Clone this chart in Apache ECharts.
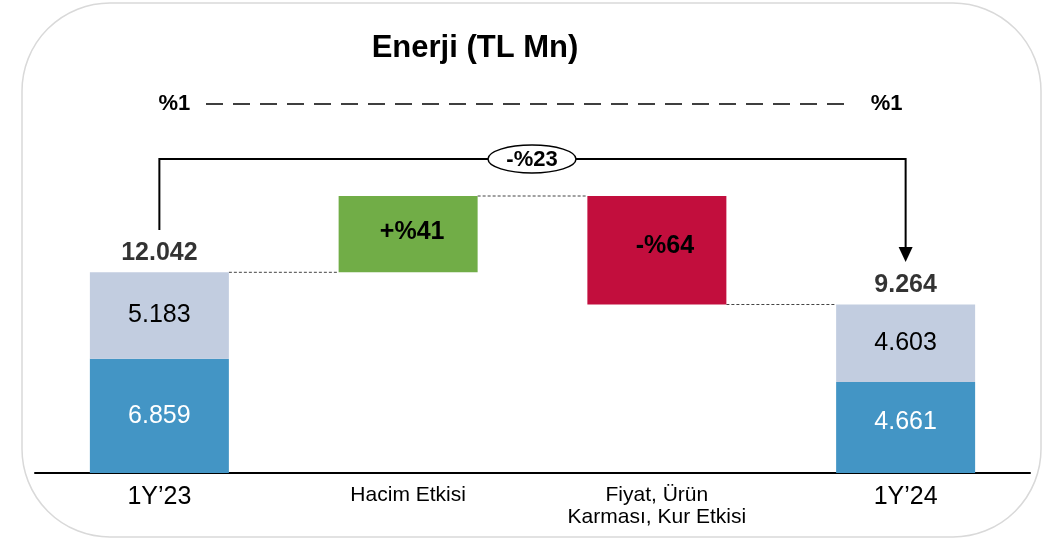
<!DOCTYPE html>
<html>
<head>
<meta charset="utf-8">
<script src="https://cdn.jsdelivr.net/npm/echarts@6/dist/echarts.min.js"></script>
<style>
html,body{margin:0;padding:0;background:#fff;}
#chart{width:1047px;height:540px;}
</style>
</head>
<body>
<div id="chart"></div>
<script>
// kategoriler
var categories = ['1Y\u201923', 'Hacim Etkisi', 'Fiyat, \u00dcr\u00fcn\nKarmas\u0131, Kur Etkisi', '1Y\u201924'];
// bar yükseklikleri (resimde çizildiği gibi)
var lowerSeg = [6859, null, null, 5460];
var upperSeg = [5183, null, null, 4650];
var stepUp = [null, 4578, null, null];
var stepDown = [null, null, 6510, null];
// etiketler
var lowerLabels = ['6.859', '', '', '4.661'];
var upperLabels = ['5.183', '', '', '4.603'];
var totalLabels = ['12.042', '', '', '9.264'];
var stepLabels = ['', '+%41', '-%64', ''];
var growthLabel = '-%23';
var shareLabels = ['%1', '%1'];

var total0 = lowerSeg[0] + upperSeg[0];
var total3 = lowerSeg[3] + upperSeg[3];
var level1 = total0 + stepUp[1];
var offset = [0, total0, level1 - stepDown[2], 0];
var levels = [total0, level1, level1 - stepDown[2]];
var totals = [total0, null, null, total3];

var FONT = '"Liberation Sans", Arial, sans-serif';
var BW = 139;

var chart = echarts.init(document.getElementById('chart'));
var option = {
  animation: false,
  textStyle: {fontFamily: FONT},
  title: {
    text: 'Enerji (TL Mn)', left: 470, top: 28, textAlign: 'center',
    textStyle: {fontSize: 31, fontWeight: 'bold', color: '#000', fontFamily: FONT}
  },
  grid: {left: 35, right: 17, top: 173, bottom: 67},
  xAxis: {
    type: 'category', data: categories,
    axisLine: {lineStyle: {color: '#000', width: 2}},
    axisTick: {show: false},
    axisLabel: {
      margin: 11, interval: 0,
      formatter: function (v) {
        if (v.indexOf('1Y') === 0) return '{big|' + v + '}';
        return v.split('\n').map(function (s) { return '{small|' + s + '}'; }).join('\n');
      },
      rich: {
        big: {fontSize: 25, color: '#000', fontFamily: FONT, lineHeight: 26},
        small: {fontSize: 21, color: '#000', fontFamily: FONT, lineHeight: 22}
      }
    }
  },
  yAxis: {type: 'value', min: 0, max: 18000, show: false, splitLine: {show: false}},
  series: [
    {
      name: 'offset', type: 'bar', stack: 's', barWidth: BW, silent: true,
      itemStyle: {color: 'transparent'}, data: offset
    },
    {
      name: 'lower', type: 'bar', stack: 's', barWidth: BW,
      itemStyle: {color: '#4395c5'},
      data: lowerSeg.map(function (v, i) {
        return i === 3 ? {value: v, label: {offset: [0, -5]}} : v;
      }),
      label: {show: true, position: 'inside', fontSize: 25, color: '#fff', fontFamily: FONT,
        formatter: function (p) { return lowerLabels[p.dataIndex]; }}
    },
    {
      name: 'upper', type: 'bar', stack: 's', barWidth: BW,
      itemStyle: {color: '#c2cde0'}, data: upperSeg,
      label: {show: true, position: 'inside', fontSize: 25, color: '#000', fontFamily: FONT,
        formatter: function (p) { return upperLabels[p.dataIndex]; }}
    },
    {
      name: 'up', type: 'bar', stack: 's', barWidth: BW,
      itemStyle: {color: '#71ad47'}, data: stepUp,
      label: {show: true, position: 'inside', offset: [4, -2], fontSize: 25, fontWeight: 'bold', color: '#000', fontFamily: FONT,
        formatter: function (p) { return stepLabels[p.dataIndex]; }}
    },
    {
      name: 'down', type: 'bar', stack: 's', barWidth: BW,
      itemStyle: {color: '#c20e3d'}, data: stepDown,
      label: {show: true, position: 'inside', offset: [8, -4], fontSize: 25, fontWeight: 'bold', color: '#000', fontFamily: FONT,
        formatter: function (p) { return stepLabels[p.dataIndex]; }}
    },
    {
      name: 'total', type: 'scatter', symbolSize: 1, itemStyle: {color: 'transparent'},
      data: totals,
      label: {show: true, position: 'top', distance: 6, fontSize: 25, fontWeight: 'bold', color: '#000', fontFamily: FONT,
        formatter: function (p) { return totalLabels[p.dataIndex]; }}
    },
    {
      name: 'connectors', type: 'custom', silent: true,
      data: levels.map(function (v, i) { return [i, v]; }),
      renderItem: function (params, api) {
        var i = api.value(0), v = api.value(1);
        var a = api.coord([i, v]), b = api.coord([i + 1, v]);
        return {
          type: 'line',
          shape: {x1: a[0] + BW / 2, y1: a[1], x2: b[0] - BW / 2, y2: b[1]},
          style: {stroke: '#444', lineWidth: 1, lineDash: [3, 2]}
        };
      }
    }
  ]
};
chart.setOption(option);

// açıklama çizgileri
var xL = chart.convertToPixel({xAxisIndex: 0}, categories[0]);
var xR = chart.convertToPixel({xAxisIndex: 0}, categories[3]);
var yB = 159;
chart.setOption({
  graphic: [
    {type: 'rect', shape: {x: 22, y: 3, width: 1019, height: 534, r: 88},
      style: {fill: null, stroke: '#d9d9d9', lineWidth: 1.5}, z: -1},
    {type: 'text', x: xL + 15, y: 104, style: {text: shareLabels[0], font: 'bold 22px ' + FONT, fill: '#000', align: 'center', verticalAlign: 'middle'}},
    {type: 'text', x: xR - 19, y: 104, style: {text: shareLabels[1], font: 'bold 22px ' + FONT, fill: '#000', align: 'center', verticalAlign: 'middle'}},
    {type: 'line', shape: {x1: 206, y1: 104, x2: 852, y2: 104}, style: {stroke: '#000', lineWidth: 1.5, lineDash: [17, 10]}},
    {type: 'polyline', shape: {points: [[xL, 230], [xL, yB], [xR, yB], [xR, 248]]}, style: {stroke: '#000', lineWidth: 2, fill: null}},
    {type: 'polygon', shape: {points: [[xR - 7, 247], [xR + 7, 247], [xR, 262]]}, style: {fill: '#000'}},
    {type: 'ellipse', shape: {cx: 532, cy: yB, rx: 44, ry: 14}, style: {fill: '#fff', stroke: '#000', lineWidth: 1.5}},
    {type: 'text', x: 532, y: yB + 1, style: {text: growthLabel, font: 'bold 22px ' + FONT, fill: '#000', align: 'center', verticalAlign: 'middle'}}
  ]
});
</script>
</body>
</html>
